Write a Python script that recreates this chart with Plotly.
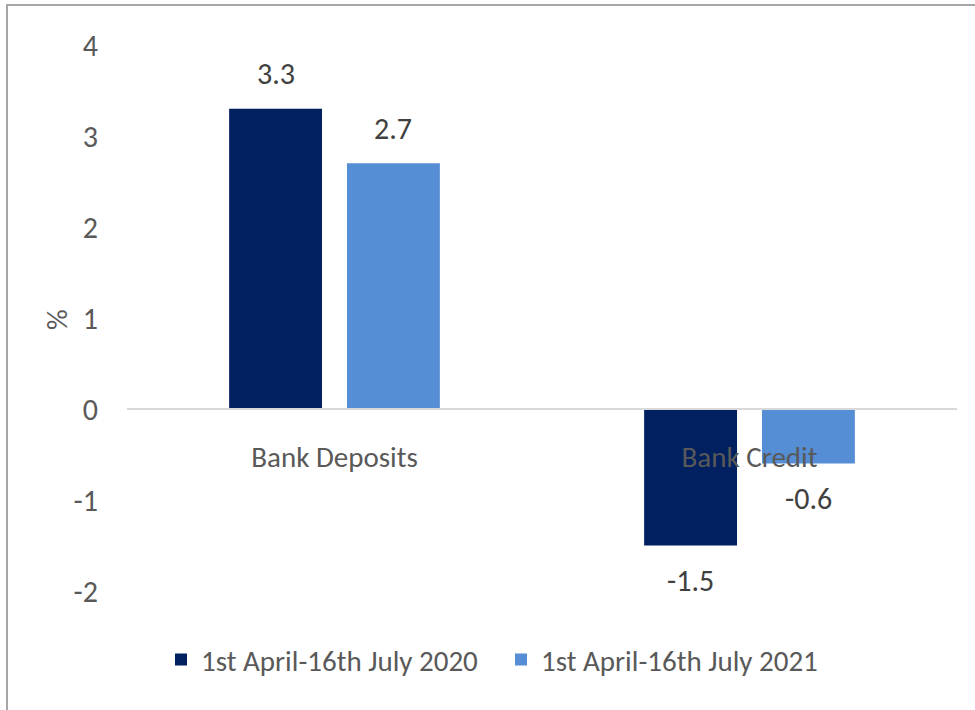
import plotly.graph_objects as go

categories = ["Bank Deposits", "Bank Credit"]
series_names = ["1st April-16th July 2020", "1st April-16th July 2021"]
values_2020 = [3.3, -1.5]
values_2021 = [2.7, -0.6]
y_ticks = [-2, -1, 0, 1, 2, 3, 4]
y_tick_text = [str(t) for t in y_ticks]
y_title = "%"

colors = ["#002060", "#558ED5"]
FONT = "Carlito, Lato, sans-serif"
TEXT_GREY = "#595959"

W, H = 975, 710
ML, MR, MT, MB = 127, 18, 45, 119
plot_w = W - ML - MR
plot_h = H - MT - MB

BARGAP = 0.432
BARGROUPGAP = 0.212

fig = go.Figure()
for name, vals, col in zip(series_names, [values_2020, values_2021], colors):
    fig.add_trace(go.Bar(
        x=categories, y=vals, name=name,
        marker=dict(color=col, line=dict(width=0)),
    ))

# value labels, offset to each bar's slot within the group
cat_px = plot_w / len(categories)
slot_px = cat_px * (1 - BARGAP) / 2
annotations = []
for i, vals in enumerate([values_2020, values_2021]):
    xshift = (i - 0.5) * slot_px
    for c, v in zip(categories, vals):
        annotations.append(dict(
            x=c, y=v, text=f"{v:g}", showarrow=False,
            xshift=xshift, yshift=35 if v >= 0 else -35,
            yanchor="middle", xanchor="center",
            font=dict(family=FONT, size=30, color="#404040"),
        ))

# rotated y-axis title
annotations.append(dict(
    xref="paper", yref="paper", x=(57 - ML) / plot_w, y=(591 - 320) / plot_h,
    text=y_title, textangle=-90, showarrow=False,
    xanchor="center", yanchor="middle",
    font=dict(family=FONT, size=29, color=TEXT_GREY),
))

# chart frame
ymin, ymax = -2, 4
fx0 = (7 - ML) / plot_w
fy1 = 1 + (MT - 5) / plot_h
fig.add_shape(type="rect", xref="paper", yref="paper",
              x0=fx0, x1=1.5, y0=-1.0, y1=fy1,
              line=dict(color="#A6A6A6", width=2), layer="below")

fig.update_layout(
    width=W, height=H,
    margin=dict(l=ML, r=MR, t=MT, b=MB),
    paper_bgcolor="white", plot_bgcolor="white",
    barmode="group", bargap=BARGAP, bargroupgap=BARGROUPGAP,
    font=dict(family=FONT, size=29, color=TEXT_GREY),
    annotations=annotations,
    showlegend=True,
    legend=dict(orientation="h", x=(501 - ML) / plot_w, xanchor="center",
                y=-0.079, yanchor="top",
                font=dict(family=FONT, size=29, color=TEXT_GREY),
                entrywidth=295, itemclick=False),
    xaxis=dict(
        anchor="free", position=(0 - ymin) / (ymax - ymin),
        showline=True, linecolor="#D9D9D9", linewidth=2,
        ticks="", showgrid=False, ticklabelstandoff=22,
        tickfont=dict(family=FONT, size=29, color=TEXT_GREY),
    ),
    yaxis=dict(
        range=[ymin, ymax], tickvals=y_ticks, ticktext=y_tick_text,
        showgrid=False, zeroline=False,
        showline=False, ticks="", ticklabelstandoff=28,
        tickfont=dict(family=FONT, size=30, color=TEXT_GREY),
    ),
)

fig.write_html("out.html")
